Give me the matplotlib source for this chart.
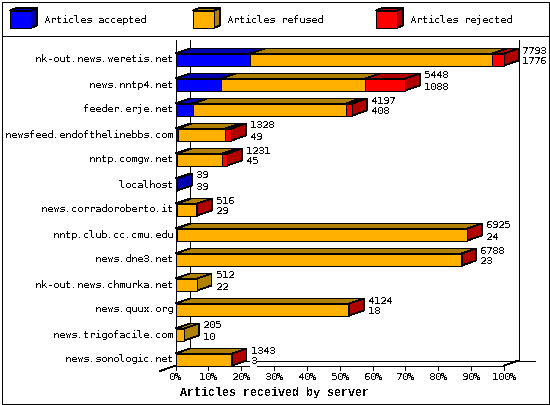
import matplotlib
matplotlib.use('Agg')
import matplotlib.pyplot as plt
from matplotlib.patches import Polygon, Rectangle

plt.rcParams['font.family'] = 'DejaVu Sans Mono'
plt.rcParams['text.antialiased'] = False
plt.rcParams['text.hinting'] = 'native'
plt.rcParams['text.hinting_factor'] = 1

servers = ['nk-out.news.weretis.net', 'news.nntp4.net', 'feeder.erje.net',
           'newsfeed.endofthelinebbs.com', 'nntp.comgw.net', 'localhost',
           'news.corradoroberto.it', 'nntp.club.cc.cmu.edu', 'news.dne3.net',
           'nk-out.news.chmurka.net', 'news.quux.org', 'news.trigofacile.com',
           'news.sonologic.net']
totals = [7793, 5448, 4197, 1328, 1231, 39, 516, 6925, 6788, 512, 4124, 205, 1343]
accepted = [1776, 1088, 408, 49, 45, 39, 29, 24, 23, 22, 18, 10, 3]
rejected = [277, 948, 155, 142, 120, 0, 2, 3, 3, 0, 2, 0, 2]
legend_names = ['Articles accepted', 'Articles refused', 'Articles rejected']
x_ticks = [0, 10, 20, 30, 40, 50, 60, 70, 80, 90, 100]

BLUE, BLUE_D = '#0000ff', '#0000b0'
ORANGE, ORANGE_D = '#ffb000', '#b08000'
RED, RED_D = '#ff0000', '#b00000'

LW = 0.55
FS = 7.3
W, H = 550, 405
fig = plt.figure(figsize=(W / 100, H / 100), dpi=100)
# pixel overlay for frame and legend
bg = fig.add_axes([0, 0, 1, 1])
bg.set_xlim(0, W)
bg.set_ylim(H, 0)
bg.axis('off')

# plot area: 0% at x=175.5, 100% at x=504, rows 25 px apart
px = 3.285
ax = fig.add_axes([175.5 / W, 1 - 365.5 / H, (504 - 175.5) / W, 325.5 / H])
ax.set_xlim(0, 100)
ax.set_ylim(12.24, -0.78)
ax.axis('off')

dx = 14.5 / px
dy = 5 / 25.0
half = 6 / 25.0


def box(x0, x1, y, col, dark):
    # front, top and side of one 3d segment
    kw = dict(ec='black', lw=LW, joinstyle='miter', antialiased=False, clip_on=False, zorder=3)
    ax.add_patch(Polygon([(x0, y - half), (x0 + dx, y - half - dy), (x1 + dx, y - half - dy), (x1, y - half)],
                         fc=dark, **kw))
    ax.add_patch(Polygon([(x1, y - half), (x1 + dx, y - half - dy), (x1 + dx, y + half - dy), (x1, y + half)],
                         fc=dark, **kw))
    ax.add_patch(Rectangle((x0, y - half), x1 - x0, 2 * half, fc=col, **kw))


# walls
wall = dict(color='black', lw=LW, antialiased=False, clip_on=False)
ax.plot([dx, dx], [-0.78, 12.04], **wall)
ax.plot([100 + dx, 100 + dx], [-0.78, 12.04], **wall)
ax.plot([0, 0], [-0.78, 12.42], **wall)
bg.plot([160, 176], [371, 365.5], **wall)
bg.plot([190, 535], [360.5, 360.5], **wall)
bg.plot([504, 518.5], [365.5, 360.5], **wall)
bg.plot([176, 504], [365.5, 365.5], **wall)

for i, name in enumerate(servers):
    a = accepted[i] / totals[0] * 100
    r = rejected[i] / totals[0] * 100
    t = totals[i] / totals[0] * 100
    if a > 0.3:
        box(0, a, i, BLUE, BLUE_D)
    else:
        a = 0
    if t - r > a:
        box(a, t - r, i, ORANGE, ORANGE_D)
    if r > 0:
        box(t - r, t, i, RED, RED_D)
    ax.text(-0.9, i, name, ha='right', va='center', fontsize=FS)
    ax.text(t + dx + 1.2, i - 0.36, str(totals[i]), ha='left', va='center', fontsize=FS, zorder=4)
    ax.text(t + dx + 1.2, i + 0.08, str(accepted[i]), ha='left', va='center', fontsize=FS, zorder=4,
            bbox=dict(fc='white', ec='none', pad=0.5))

for v in x_ticks:
    ax.plot([v, v], [12.24, 12.42], **wall)
    ax.text(v, 12.72, '%d%%' % v, ha='center', va='center', fontsize=FS)
ax.text(30, 13.32, 'Articles received by server', ha='center', va='center',
        fontsize=8.4, fontweight='bold', family='Liberation Mono')

# frame and legend
bg.add_patch(Rectangle((1.5, 1.5), 547, 402.5, fc='none', ec='black', lw=LW, antialiased=False, clip_on=False))
bg.plot([1.5, 548.5], [35.5, 35.5], color='black', lw=LW, antialiased=False)
leg_x = [10, 193, 376]
leg_cols = [(BLUE, BLUE_D), (ORANGE, ORANGE_D), (RED, RED_D)]
for lx, nm, (c, d) in zip(leg_x, legend_names, leg_cols):
    k = dict(ec='black', lw=LW, antialiased=False)
    bg.add_patch(Polygon([(lx, 10.5), (lx + 6, 8), (lx + 27, 8), (lx + 21, 10.5)], fc=d, **k))
    bg.add_patch(Polygon([(lx + 21, 10.5), (lx + 27, 8), (lx + 27, 25.5), (lx + 21, 28)], fc=d, **k))
    bg.add_patch(Rectangle((lx, 10.5), 21, 17.5, fc=c, **k))
    bg.text(lx + 34, 20, nm, ha='left', va='center', fontsize=FS)

fig.savefig('out.png', dpi=100)
